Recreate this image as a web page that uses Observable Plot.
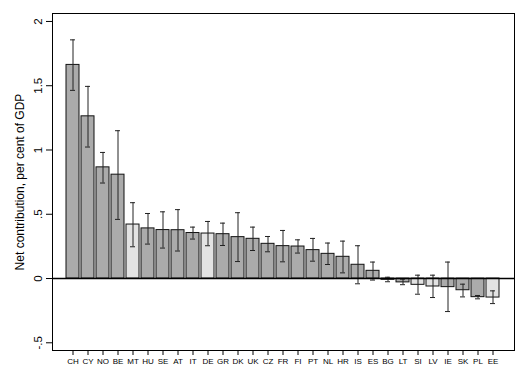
<!DOCTYPE html>
<html>
<head>
<meta charset="utf-8">
<script src="https://cdn.jsdelivr.net/npm/d3@7"></script>
<script src="https://cdn.jsdelivr.net/npm/@observablehq/plot@0.6"></script>
<style>
  html, body { margin: 0; padding: 0; background: #fff; }
  #chart { width: 528px; height: 384px; }
  #chart svg text { -webkit-font-smoothing: antialiased; }
</style>
</head>
<body>
<div id="chart"></div>
<script>
const countries = ["CH","CY","NO","BE","MT","HU","SE","AT","IT","DE","GR","DK","UK","CZ","FR","FI","PT","NL","HR","IS","ES","BG","LT","SI","LV","IE","SK","PL","EE"];
const values    = [1.662,1.262,0.865,0.808,0.420,0.390,0.377,0.376,0.354,0.350,0.345,0.322,0.309,0.270,0.252,0.249,0.221,0.192,0.169,0.107,0.060,-0.010,-0.030,-0.049,-0.062,-0.067,-0.091,-0.145,-0.148];
const lower     = [1.464,1.023,0.743,0.460,0.247,0.268,0.237,0.214,0.307,0.255,0.257,0.132,0.218,0.208,0.130,0.198,0.135,0.109,0.044,-0.041,-0.012,-0.025,-0.048,-0.122,-0.148,-0.257,-0.143,-0.158,-0.195];
const upper     = [1.857,1.495,0.981,1.150,0.590,0.506,0.519,0.536,0.400,0.444,0.431,0.512,0.400,0.327,0.374,0.301,0.312,0.276,0.291,0.255,0.128,0.010,-0.005,0.026,0.026,0.128,-0.044,-0.132,-0.096];
const lightCountries = ["MT","DE","SI","LV","EE"];
const yTicks = [-0.5, 0, 0.5, 1, 1.5, 2];
const yTickLabels = ["-.5", "0", ".5", "1", "1.5", "2"];
const yTitle = "Net contribution, per cent of GDP";

const data = countries.map((c, i) => ({c, v: values[i], lo: lower[i], hi: upper[i], light: lightCountries.includes(c)}));
const tickData = yTicks.map((t, i) => ({t, label: yTickLabels[i]}));

const chart = Plot.plot({
  width: 528,
  height: 384,
  marginLeft: 52,
  marginRight: 14,
  marginTop: 13,
  marginBottom: 34,
  style: {fontFamily: "'Liberation Sans', Arial, sans-serif", background: "#fff", color: "#000"},
  x: {domain: countries, paddingInner: 0.13, paddingOuter: 0.525, label: null},
  y: {domain: [-0.56, 2.062], label: null},
  marks: [
    Plot.barY(data, {x: "c", y1: 0, y2: "v", fill: d => d.light ? "#e3e3e3" : "#ababab", stroke: "#111", strokeWidth: 1}),
    Plot.ruleX(data, {x: "c", y1: "lo", y2: "hi", stroke: "#222", strokeWidth: 1}),
    Plot.tickY(data, {x: "c", y: "lo", stroke: "#222", strokeWidth: 1, insetLeft: 4, insetRight: 4}),
    Plot.tickY(data, {x: "c", y: "hi", stroke: "#222", strokeWidth: 1, insetLeft: 4, insetRight: 4}),
    Plot.ruleY([0], {stroke: "#000", strokeWidth: 1.5}),
    Plot.frame({stroke: "#000", strokeWidth: 1}),
    Plot.axisY({ticks: yTicks, tickSize: 6, tickFormat: () => "", label: null}),
    Plot.text(tickData, {y: "t", text: "label", frameAnchor: "left", dx: -14, rotate: -90, textAnchor: "middle", fontSize: 11.5, fill: "#000"}),
    Plot.text([yTitle], {text: d => d, frameAnchor: "left", dx: -32, rotate: -90, textAnchor: "middle", fontSize: 12, fill: "#000"}),
    Plot.axisX({tickSize: 5, tickPadding: 3, fontSize: 8, fill: "#000", label: null})
  ]
});
document.getElementById("chart").appendChild(chart);
</script>
</body>
</html>
